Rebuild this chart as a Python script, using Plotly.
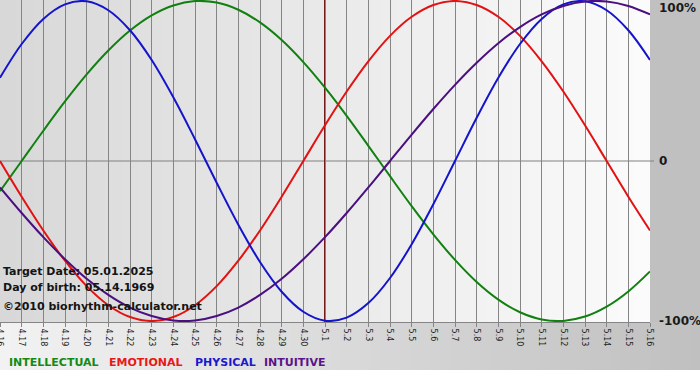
import plotly.graph_objects as go

days = ["4.16", "4.17", "4.18", "4.19", "4.20", "4.21", "4.22", "4.23", "4.24", "4.25",
        "4.26", "4.27", "4.28", "4.29", "4.30", "5.1", "5.2", "5.3", "5.4", "5.5",
        "5.6", "5.7", "5.8", "5.9", "5.10", "5.11", "5.12", "5.13", "5.14", "5.15", "5.16"]

intellectual = [-18.9, 0.0, 18.9, 37.2, 54.1, 69.0, 81.5, 91.0, 97.2, 99.9,
                99.0, 94.5, 86.6, 75.6, 61.8, 45.8, 28.2, 9.5, -9.5, -28.2,
                -45.8, -61.8, -75.6, -86.6, -94.5, -99.0, -99.9, -97.2, -91.0, -81.5, -69.0]
emotional = [0.0, -22.3, -43.4, -62.3, -78.2, -90.1, -97.5, -100.0, -97.5, -90.1,
             -78.2, -62.3, -43.4, -22.3, 0.0, 22.3, 43.4, 62.3, 78.2, 90.1,
             97.5, 100.0, 97.5, 90.1, 78.2, 62.3, 43.4, 22.3, 0.0, -22.3, -43.4]
physical = [52.0, 73.1, 88.8, 97.9, 99.8, 94.2, 81.7, 63.1, 39.8, 13.6,
            -13.6, -39.8, -63.1, -81.7, -94.2, -99.8, -97.9, -88.8, -73.1, -52.0,
            -27.0, 0.0, 27.0, 52.0, 73.1, 88.8, 97.9, 99.8, 94.2, 81.7, 63.1]
intuitive = [-16.5, -32.5, -47.6, -61.4, -73.6, -83.7, -91.6, -96.9, -99.7, -99.7,
             -96.9, -91.6, -83.7, -73.6, -61.4, -47.6, -32.5, -16.5, 0.0, 16.5,
             32.5, 47.6, 61.4, 73.6, 83.7, 91.6, 96.9, 99.7, 99.7, 96.9, 91.6]

series_names = ["INTELLECTUAL", "EMOTIONAL", "PHYSICAL", "INTUITIVE"]
series_values = [intellectual, emotional, physical, intuitive]
line_colors = ["#118011", "#e31212", "#1414cc", "#4a0f80"]
legend_colors = ["#138a13", "#e81818", "#1a1acc", "#5a1488"]

target_day = "5.1"
y_labels = ["100%", "0", "-100%"]
y_label_values = [100, 0, -100]
info_lines = ["Target Date: 05.01.2025", "Day of birth: 05.14.1969", "\u00a92010 biorhythm-calculator.net"]

W, H = 700, 380
ML, MR, MT, MB = 0, 50, 0, 58
PW = W - ML - MR
PH = H - MT - MB

def px_x(p):
    return (p - ML) / PW

def px_y(p):
    return (PH + MT - p) / PH

fig = go.Figure()
for name, vals, col in zip(series_names, series_values, line_colors):
    fig.add_trace(go.Scatter(x=list(range(len(days))), y=vals, mode="lines", name=name,
                             line=dict(color=col, width=2, shape="spline", smoothing=1),
                             showlegend=False, hoverinfo="skip"))

shapes = []
# plot area gradient (left grey -> right near white)
N = 80
for i in range(N):
    t = i / (N - 1)
    c = int(round(216 + (251 - 216) * t))
    shapes.append(dict(type="rect", xref="paper", yref="paper",
                       x0=i / N, x1=(i + 1) / N + 0.002, y0=0, y1=1,
                       fillcolor=f"rgb({c},{c},{c})", line=dict(width=0), layer="below"))
# right grey band
shapes.append(dict(type="rect", xref="paper", yref="paper",
                   x0=1, x1=px_x(W), y0=0, y1=1.01,
                   fillcolor="#c0c0c0", line=dict(width=0), layer="below"))
# bottom gradient band
M = 70
ytop, ybot = 0, px_y(370)
for i in range(M):
    t = i / (M - 1)
    c = int(round(242 + (192 - 242) * t))
    shapes.append(dict(type="rect", xref="paper", yref="paper",
                       x0=px_x(W) * i / M, x1=px_x(W) * (i + 1) / M + 0.002, y0=ybot, y1=ytop,
                       fillcolor=f"rgb({c},{c},{c})", line=dict(width=0), layer="below"))
# zero line
shapes.append(dict(type="line", xref="paper", yref="y", x0=0, x1=px_x(654), y0=0, y1=0,
                   line=dict(color="#808080", width=1), layer="between"))
# target-date marker
ti = days.index(target_day)
shapes.append(dict(type="line", xref="x", yref="paper", x0=ti, x1=ti, y0=0, y1=1,
                   line=dict(color="#741a1a", width=2), layer="between"))

annotations = []
for txt, v in zip(y_labels, y_label_values):
    annotations.append(dict(text=txt, xref="paper", yref="y", x=px_x(657), y=v,
                            xanchor="left", yanchor="top" if v == 100 else "middle",
                            yshift=2 if v == 100 else 0,
                            showarrow=False,
                            font=dict(family="DejaVu Sans", size=12, color="#1a1a1a", weight="bold")))
info_y = [271, 287, 306]
for txt, yy in zip(info_lines, info_y):
    annotations.append(dict(text=txt, xref="paper", yref="paper", x=px_x(1), y=px_y(yy),
                            xanchor="left", yanchor="middle", showarrow=False,
                            font=dict(family="DejaVu Sans", size=11, color="#141414", weight="bold")))
legend_x = [7, 107, 193, 262]
for txt, col, xx in zip(series_names, legend_colors, legend_x):
    annotations.append(dict(text=txt, xref="paper", yref="paper", x=px_x(xx), y=px_y(362),
                            xanchor="left", yanchor="middle", showarrow=False,
                            font=dict(family="DejaVu Sans", size=11, color=col, weight="bold")))

fig.update_layout(
    width=W, height=H,
    margin=dict(l=ML, r=MR, t=MT, b=MB, pad=0, autoexpand=False),
    paper_bgcolor="white", plot_bgcolor="rgba(0,0,0,0)",
    shapes=shapes, annotations=annotations,
    xaxis=dict(tickmode="array", tickvals=list(range(len(days))), ticktext=days,
               range=[0, len(days) - 1], showgrid=True, gridcolor="#858585", gridwidth=1,
               ticks="outside", ticklen=4, tickcolor="#858585",
               showline=True, linecolor="#858585", linewidth=1, automargin=False,
               ticklabeloverflow="allow",
               tickangle=90, tickfont=dict(family="DejaVu Sans", size=8, color="#1e1e1e"),
               zeroline=False, fixedrange=True),
    yaxis=dict(range=[-100.6, 100.6], showgrid=False, zeroline=False, showticklabels=False,
               ticks="", fixedrange=True, automargin=False),
)

fig.write_html("out.html", config={"displayModeBar": False},
               post_script="document.body.style.margin='0';document.body.style.overflow='hidden';")
